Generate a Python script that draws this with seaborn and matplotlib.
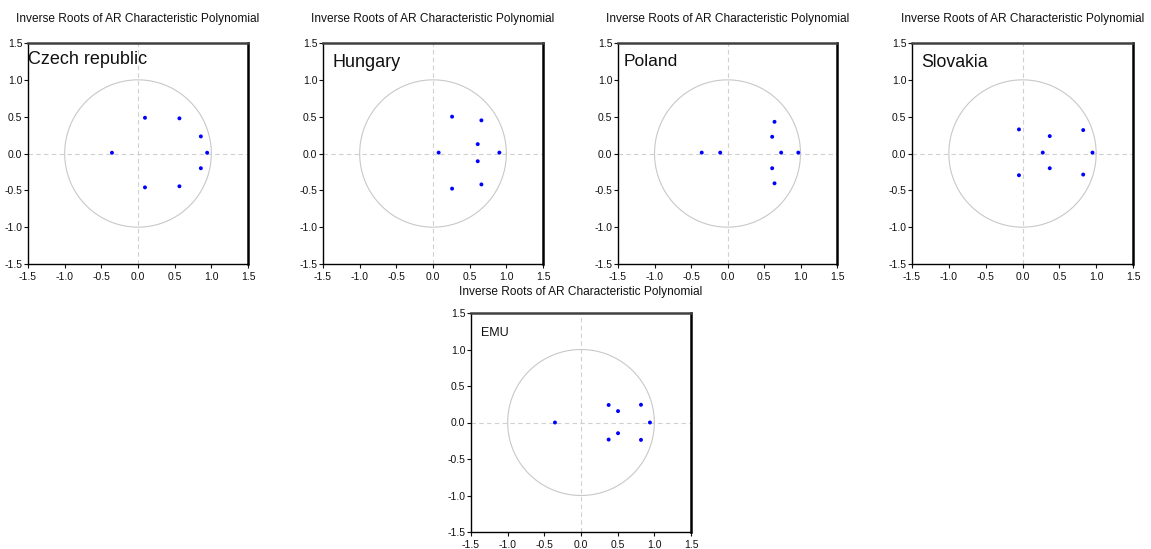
import numpy as np
import pandas as pd
import matplotlib
matplotlib.use("Agg")
import matplotlib.pyplot as plt
import seaborn as sns

czech_re = [-0.355, 0.095, 0.095, 0.565, 0.565, 0.857, 0.857, 0.943]
czech_im = [0.01, 0.485, -0.46, 0.477, -0.445, 0.232, -0.20, 0.01]
hungary_re = [0.077, 0.26, 0.26, 0.66, 0.66, 0.61, 0.61, 0.905]
hungary_im = [0.012, 0.50, -0.477, 0.45, -0.42, 0.127, -0.105, 0.012]
poland_re = [-0.353, -0.10, 0.644, 0.612, 0.735, 0.97, 0.612, 0.644]
poland_im = [0.012, 0.012, 0.43, 0.227, 0.012, 0.012, -0.20, -0.405]
slovakia_re = [-0.048, -0.048, 0.37, 0.37, 0.275, 0.824, 0.824, 0.95]
slovakia_im = [0.327, -0.295, 0.236, -0.20, 0.012, 0.318, -0.286, 0.012]
emu_re = [-0.355, 0.377, 0.377, 0.505, 0.505, 0.818, 0.818, 0.94]
emu_im = [0.0, 0.24, -0.234, 0.156, -0.147, 0.243, -0.238, 0.0]

countries = ["Czech republic", "Hungary", "Poland", "Slovakia", "EMU"]
label_sizes = [13, 13, 12.5, 12.7, 9]
ticks = [-1.5, -1.0, -0.5, 0.0, 0.5, 1.0, 1.5]
title = "Inverse Roots of AR Characteristic Polynomial"

frames = []
for name, re, im in zip(countries,
                        [czech_re, hungary_re, poland_re, slovakia_re, emu_re],
                        [czech_im, hungary_im, poland_im, slovakia_im, emu_im]):
    frames.append(pd.DataFrame({"country": name, "re": re, "im": im}))
df = pd.concat(frames, ignore_index=True)

sns.set_style("white")
plt.rcParams["font.family"] = ["Liberation Sans", "DejaVu Sans"]
plt.rcParams["text.color"] = "#111111"

W, H = 1151, 549
fig = plt.figure(figsize=(W / 100, H / 100), dpi=100)

# axes boxes in pixels: left, right, top, bottom
boxes = [(28, 248, 43, 264), (323, 543, 43, 264), (618, 837, 43, 264),
         (912, 1133, 43, 264), (471, 691, 313, 532)]
title_pads = [15, 15, 15, 15, 13]
label_off = [(0, 8), (9, 11), (6, 11), (9, 11), (10, 14)]

theta = np.linspace(0, 2 * np.pi, 400)
for i, name in enumerate(countries):
    l, r, t, b = boxes[i]
    ax = fig.add_axes([l / W, 1 - b / H, (r - l) / W, (b - t) / H])
    ax.plot(np.cos(theta), np.sin(theta), color="#c8c8c8", lw=0.8, zorder=1)
    ax.axhline(0, color="#d0d0d0", lw=0.8, ls=(0, (4, 3)), zorder=1)
    ax.axvline(0, color="#d0d0d0", lw=0.8, ls=(0, (4, 3)), zorder=1)
    sns.scatterplot(data=df[df["country"] == name], x="re", y="im", ax=ax,
                    color="#0000ff", s=8, edgecolor="none", zorder=3)
    ax.set_xlim(-1.5, 1.5)
    ax.set_ylim(-1.5, 1.5)
    ax.set_xticks(ticks)
    ax.set_yticks(ticks)
    ax.set_xticklabels([f"{v:.1f}" for v in ticks])
    ax.set_yticklabels([f"{v:.1f}" for v in ticks])
    ax.set_xlabel("")
    ax.set_ylabel("")
    ax.tick_params(axis="both", direction="out", length=3, width=0.8,
                   labelsize=7.5, colors="#111111", left=True, bottom=True)
    ax.tick_params(axis="x", pad=3)
    ax.tick_params(axis="y", pad=1)
    for s in ["left", "bottom"]:
        ax.spines[s].set_linewidth(1.0)
        ax.spines[s].set_color("black")
    ax.spines["top"].set_linewidth(1.8)
    ax.spines["top"].set_color("#404040")
    ax.spines["right"].set_linewidth(1.8)
    ax.spines["right"].set_color("black")
    ax.set_title(title, fontsize=8.6, pad=title_pads[i])
    dx, dy = label_off[i]
    ax.annotate(name, xy=(0, 1), xycoords="axes fraction",
                xytext=(dx * 0.72, -dy * 0.72), textcoords="offset points",
                ha="left", va="top", fontsize=label_sizes[i])

fig.savefig("out.png", dpi=100)
